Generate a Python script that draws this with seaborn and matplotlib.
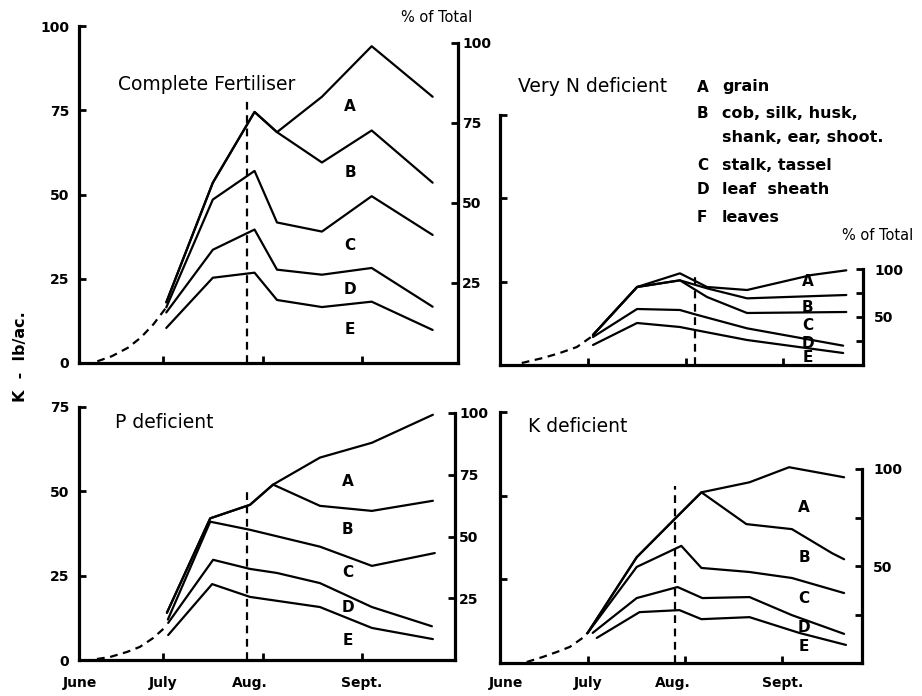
import numpy as np
import pandas as pd
import matplotlib
matplotlib.use("Agg")
import matplotlib.pyplot as plt
import matplotlib.transforms as mtransforms
import seaborn as sns

sns.set_theme(style="white")
plt.rcParams["font.family"] = ["DejaVu Sans"]
plt.rcParams["text.color"] = "black"
plt.rcParams["axes.labelcolor"] = "black"
plt.rcParams["xtick.color"] = "black"
plt.rcParams["ytick.color"] = "black"

W, H = 922, 696

# ---------------- data (days since 1 June, K lb/ac cumulative boundaries) ----
months = ["June", "July", "Aug.", "Sept."]
month_tick_days = [30, 61, 92]
month_label_days = [4, 30, 57, 92]
layer_labels = ["A", "B", "C", "D", "E"]

# Complete fertiliser
cf_days = [31, 45.5, 58.5, 65.5, 79.5, 95, 114]
cf_total = [18, 53.5, 74.5, 68.5, 79, 94, 79]
cf_ab = [18, 53.5, 74.5, 68.5, 59.5, 69, 53.5]
cf_bc = [16.5, 48.5, 57, 41.7, 39, 49.5, 38]
cf_cd = [15, 33.6, 39.6, 27.7, 26.2, 28.2, 16.7]
cf_de = [10.4, 25.3, 26.8, 18.7, 16.6, 18.2, 9.8]
cf_early_days = [9.5, 14, 19, 23, 27, 31]
cf_early = [0.5, 2, 4.5, 7.5, 11.5, 16.5]

# Very N deficient
nd_total_days = [31.6, 45.6, 59.2, 67.8, 80.5, 101, 112]
nd_total = [9, 23.4, 27.5, 23.4, 22.5, 27, 28.4]
nd_days = [31.6, 45.6, 59.2, 67.8, 80.5, 112]
nd_ab = [9, 23.4, 25.4, 23, 20, 21]
nd_bc = [9, 23.4, 25.4, 20.4, 15.6, 15.9]
nd_low_days = [31.6, 45.6, 59.2, 64, 80.5, 111]
nd_cd = [8.4, 16.8, 16.5, 15.2, 11, 5.8]
nd_de = [6, 12.6, 11.4, 10.5, 7.5, 3.6]
nd_early_days = [9, 15.7, 21.1, 26.5, 31.6]
nd_early = [0.6, 2.1, 3.6, 5.4, 8.8]

# P deficient
pd_days = [31.2, 44.7, 57.1, 64.3, 78.9, 95.1, 114.1]
pd_total = [14, 42, 46, 52, 60, 64.4, 72.7]
pd_ab = [14, 42, 46, 52, 45.7, 44.2, 47.2]
pd_bc_days = [31.5, 44.7, 57.1, 78.9, 95.1, 114.7]
pd_bc = [12, 41, 38.6, 33.6, 27.9, 31.7]
pd_cd_days = [31.6, 45.6, 57.1, 65.5, 78.9, 95.1, 113.8]
pd_cd = [11, 29.7, 27, 25.8, 22.8, 15.7, 10]
pd_de_days = [31.6, 45.3, 57.1, 78.9, 95.1, 114.1]
pd_de = [7.4, 22.5, 18.7, 15.7, 9.5, 6.2]
pd_early_days = [9.4, 13.5, 18.8, 22.8, 26.9, 31]
pd_early = [0.3, 0.9, 2.4, 3.9, 6.5, 10]

# K deficient
kd_total_days = [30, 45.6, 58.3, 66.2, 81.5, 94.1, 111.6]
kd_total = [9, 31.6, 43.6, 51, 54, 58.5, 55.5]
kd_ab_days = [30, 45.6, 58.3, 66.2, 80.5, 95, 107.8, 111.6]
kd_ab = [9, 31.6, 43.6, 51, 41.5, 40, 32.8, 31]
kd_bc_days = [30, 45.6, 59.8, 66.2, 81.4, 95, 111.6]
kd_bc = [9, 28.7, 35, 28.4, 27.2, 25.4, 20.9]
kd_cd_days = [31.6, 45.6, 58.6, 66.5, 81.5, 95, 111.6]
kd_cd = [9, 19.4, 22.7, 19.4, 19.7, 14.3, 8.7]
kd_de_days = [32.9, 46.5, 59.2, 66.2, 81.5, 97.3, 112.2]
kd_de = [7.5, 15.2, 15.8, 13.1, 13.7, 9, 5.4]
kd_early_days = [10.6, 15.7, 20.2, 24.3, 28.4, 30]
kd_early = [0.3, 1.8, 3.3, 4.8, 7.5, 9]

# silking date (vertical dashed line) and its height
silk_day = {"cf": 56.2, "nd": 64, "pd": 56.2, "kd": 57.9}
silk_top = {"cf": 78, "nd": 28, "pd": 51, "kd": 53}

# ---------------- layout -------------------------------------------------------
panels = {
    "cf": dict(px=(79, 458, 26, 363), ylim=100, rtop100=43, xlim=(3.8, 121.9),
               lines=[(cf_days, cf_total), (cf_days, cf_ab), (cf_days, cf_bc),
                      (cf_days, cf_cd), (cf_days, cf_de)],
               early=(cf_early_days, cf_early),
               lab_day=88.3, lab_y=[76, 56.5, 35, 21.7, 9.8],
               left_ticks=[0, 25, 50, 75, 100], left_labels=True,
               right_labels=["25", "50", "75", "100"], rpad=3,
               title="Complete Fertiliser", title_px=(118, 85), months=False),
    "nd": dict(px=(500, 863, 115, 365), ylim=75, rtop100=269, xlim=(2.1, 117.3),
               lines=[(nd_total_days, nd_total), (nd_days, nd_ab), (nd_days, nd_bc),
                      (nd_low_days, nd_cd), (nd_low_days, nd_de)],
               early=(nd_early_days, nd_early),
               lab_day=99.8, lab_y=[24.9, 17.4, 12, 6.6, 2.4],
               left_ticks=[25, 50, 75], left_labels=False,
               right_labels=["", "50", "", "100"], rpad=8,
               title="Very N deficient", title_px=(518, 87), months=False),
    "pd": dict(px=(79, 455, 407, 660), ylim=75, rtop100=413, xlim=(3.8, 121.0),
               lines=[(pd_days, pd_total), (pd_days, pd_ab), (pd_bc_days, pd_bc),
                      (pd_cd_days, pd_cd), (pd_de_days, pd_de)],
               early=(pd_early_days, pd_early),
               lab_day=87.6, lab_y=[52.8, 38.6, 25.8, 15.7, 5.9],
               left_ticks=[0, 25, 50, 75], left_labels=True,
               right_labels=["25", "50", "75", "100"], rpad=3,
               title="P deficient", title_px=(115, 423), months=True),
    "kd": dict(px=(500, 862, 412, 663), ylim=75, rtop100=469, xlim=(2.1, 117.3),
               lines=[(kd_total_days, kd_total), (kd_ab_days, kd_ab), (kd_bc_days, kd_bc),
                      (kd_cd_days, kd_cd), (kd_de_days, kd_de)],
               early=(kd_early_days, kd_early),
               lab_day=98.9, lab_y=[46.6, 31.6, 19.4, 10.7, 4.8],
               left_ticks=[25, 50, 75], left_labels=False,
               right_labels=["", "50", "", "100"], rpad=8,
               title="K deficient", title_px=(528, 427), months=True),
}

fig = plt.figure(figsize=(W / 100, H / 100), dpi=100)
fig.patch.set_facecolor("white")

LW = 1.6
SPW = 2.3
TICKFONT = dict(fontsize=10, fontweight="bold", color="black")


def fx(x):
    return x / W


def fy(y):
    return 1 - y / H


for key, p in panels.items():
    x0, x1, yt, yb = p["px"]
    ax = fig.add_axes([fx(x0), fy(yb), (x1 - x0) / W, (yb - yt) / H])
    ax.set_facecolor("white")
    ax.set_xlim(*p["xlim"])
    ax.set_ylim(0, p["ylim"])

    for xs, ys in p["lines"]:
        sns.lineplot(x=xs, y=ys, ax=ax, color="black", lw=LW, estimator=None,
                     sort=False, legend=False)
    ex, ey = p["early"]
    sns.lineplot(x=ex, y=ey, ax=ax, color="black", lw=LW, estimator=None,
                 sort=False, legend=False, linestyle=(0, (3.5, 2.5)))
    ax.plot([silk_day[key], silk_day[key]], [0, silk_top[key]], color="black",
            lw=LW, linestyle=(0, (3.5, 2.5)))

    for lab, yv in zip(layer_labels, p["lab_y"]):
        ax.text(p["lab_day"], yv, lab, ha="center", va="center", fontsize=11,
                fontweight="bold", color="black")

    for s in ["top", "right"]:
        ax.spines[s].set_visible(False)
    for s in ["left", "bottom"]:
        ax.spines[s].set_linewidth(SPW)
        ax.spines[s].set_color("black")
    ax.set_xticks(month_tick_days)
    ax.set_xticklabels([])
    ax.set_yticks(p["left_ticks"])
    if p["left_labels"]:
        ax.set_yticklabels([str(t) for t in p["left_ticks"]], **TICKFONT)
    else:
        ax.set_yticklabels([])
    ax.tick_params(axis="both", direction="in", length=5, width=2, color="black",
                   pad=7, left=True, bottom=True)
    ax.set_xlabel("")
    ax.set_ylabel("")
    ax.grid(False)

    # right "% of Total" axis
    axr = ax.twinx()
    rtop = 100 * (yb - yt) / (yb - p["rtop100"])
    axr.set_ylim(0, rtop)
    for s in ["top", "left", "bottom"]:
        axr.spines[s].set_visible(False)
    axr.spines["right"].set_bounds(0, 100)
    axr.spines["right"].set_linewidth(SPW)
    axr.spines["right"].set_color("black")
    axr.set_yticks([25, 50, 75, 100])
    axr.set_yticklabels(p["right_labels"], **TICKFONT)
    axr.tick_params(axis="y", direction="in", length=5, width=2, color="black",
                    pad=p["rpad"], right=True)
    axr.grid(False)

    fig.text(fx(p["title_px"][0]), fy(p["title_px"][1]), p["title"], fontsize=13.5,
             ha="left", va="center", color="black")

    if p["months"]:
        trans = mtransforms.blended_transform_factory(ax.transData, fig.transFigure)
        for m, d in zip(months, month_label_days):
            ax.text(d, fy(683), m, transform=trans, ha="center", va="center",
                    **TICKFONT)

# "% of Total" headings
fig.text(fx(437), fy(17), "% of Total", fontsize=10.5, ha="center", va="center",
         color="black")
fig.text(fx(842), fy(235), "% of Total", fontsize=10.5, ha="left", va="center",
         color="black")

# y-axis title
fig.text(fx(20), fy(357), "K  -  lb/ac.", rotation=90, ha="center", va="center",
         fontsize=11.5, fontweight="bold", color="black")

# legend of plant parts
legend_keys = ["A", "B", "", "C", "D", "F"]
legend_text = ["grain", "cob, silk, husk,", "shank, ear, shoot.", "stalk, tassel",
               "leaf  sheath", "leaves"]
legend_y = [87, 113, 137, 165, 190, 217]
for k, t, yy in zip(legend_keys, legend_text, legend_y):
    fig.text(fx(697), fy(yy), k, fontsize=11, fontweight="bold", ha="left",
             va="center", color="black")
    fig.text(fx(722), fy(yy), t, fontsize=11.5, fontweight="bold", ha="left",
             va="center", color="black")

fig.savefig("out.png", dpi=100, facecolor="white")
